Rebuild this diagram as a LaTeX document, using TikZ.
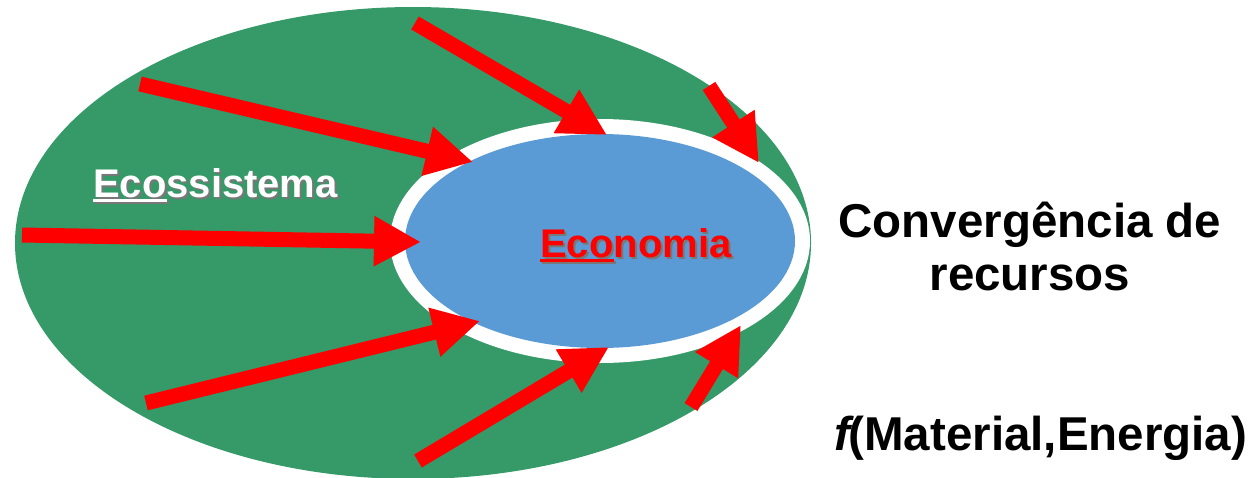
\documentclass[tikz,border=0pt]{standalone}
\usepackage{fontspec}
\setmainfont{Liberation Sans}
\usetikzlibrary{arrows.meta,shapes.geometric}
\definecolor{ecogreen}{RGB}{53,154,104}
\definecolor{econblue}{RGB}{91,155,213}
\definecolor{shadowgray}{RGB}{120,120,120}
\newcommand\myuline[1]{\leavevmode\setbox0\hbox{#1}\rlap{\rule[-5pt]{\wd0}{3pt}}\box0}
\tikzset{
  redarrow/.style={draw=red, line width=15pt, line cap=butt, -{Triangle[length=47pt,width=47pt]}},
  bigtxt/.style={font=\fontsize{40}{48}\selectfont\bfseries, inner sep=0pt, anchor=base west},
  righttxt/.style={font=\fontsize{47.5}{53}\selectfont\bfseries, inner sep=0pt, anchor=base, text=black},
  ell/.style={ellipse, inner sep=0pt, draw=none}
}
\begin{document}
\begin{tikzpicture}[x=1pt,y=-1pt]
\useasboundingbox (0,0) rectangle (1258,477);
% ellipses
\node[ell, fill=ecogreen, minimum width=796pt, minimum height=472pt] (eco) at (413,243) {};
\node[ell, fill=white, minimum width=420pt, minimum height=244pt] (ring) at (600,241) {};
\node[ell, fill=econblue, minimum width=390pt, minimum height=214pt] (econ) at (600,241) {};
% labels with shadow
\node[bigtxt, text=shadowgray] (ecoS) at (95,199) {\myuline{Eco}ssistema};
\node[bigtxt, text=white] (ecoT) at (93,197) {\myuline{Eco}ssistema};
\node[bigtxt, text=shadowgray] (econS) at (542,259) {\myuline{Eco}nomia};
\node[bigtxt, text=red] (econT) at (540,257) {\myuline{Eco}nomia};
% arrow end points
\coordinate (t1) at (415,23);  \coordinate (h1) at (607,135);
\coordinate (t2) at (140,84);  \coordinate (h2) at (473,162);
\coordinate (t3) at (22,235);  \coordinate (h3) at (421,242);
\coordinate (t4) at (146,403); \coordinate (h4) at (480,321);
\coordinate (t5) at (418,461); \coordinate (h5) at (609,347);
\coordinate (t6) at (709,86);  \coordinate (h6) at (759,163);
\coordinate (t7) at (691,407); \coordinate (h7) at (741,325);
\foreach \i in {1,...,7} { \draw[redarrow] (t\i) -- (h\i); }
% right texts
\node[righttxt] (conv) at (1030,237) {Convergência de};
\node[righttxt] (recu) at (1030,290) {recursos};
\node[righttxt] (func) at (1041,450) {\textit{f}\kern-6pt(Material,Energia)};
\end{tikzpicture}
\end{document}
